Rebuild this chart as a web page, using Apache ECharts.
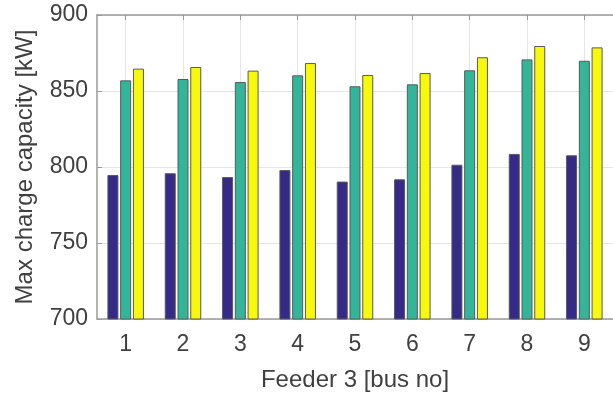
<!DOCTYPE html>
<html>
<head>
<meta charset="utf-8">
<script src="https://cdn.jsdelivr.net/npm/echarts@6/dist/echarts.min.js"></script>
<style>html,body{margin:0;padding:0;background:#fff}#c{width:613px;height:398px}</style>
</head>
<body>
<div id="c"></div>
<script>
const categories = ['1','2','3','4','5','6','7','8','9'];
const seriesA = [794.7, 795.9, 793.4, 798.0, 790.4, 791.9, 801.5, 808.6, 807.7];
const seriesB = [857.0, 857.9, 855.9, 860.3, 853.1, 854.4, 863.6, 870.8, 869.9];
const seriesC = [864.7, 865.8, 863.4, 868.4, 860.5, 861.8, 872.2, 879.6, 878.7];
const yTicks = [700, 750, 800, 850, 900];
const xTitle = 'Feeder 3 [bus no]';
const yTitle = 'Max charge capacity [kW]';

const font = 'Liberation Sans, Arial, sans-serif';
const txt = '#404040';
const axisCol = '#9a9a9a';
const chart = echarts.init(document.getElementById('c'), null, {renderer: 'canvas'});
const barStyle = (c) => ({color: c, borderColor: '#5a5a5a', borderWidth: 1});
chart.setOption({
  animation: false,
  grid: {left: 97, top: 15, width: 524, height: 304, containLabel: false},
  xAxis: [{
    type: 'category', data: categories, position: 'bottom',
    name: xTitle, nameLocation: 'middle', nameGap: 49,
    nameTextStyle: {fontFamily: font, fontSize: 24, color: txt},
    axisLine: {show: true, lineStyle: {color: axisCol, width: 1.5}},
    axisTick: {show: true, inside: true, alignWithLabel: true, length: 5, lineStyle: {color: axisCol}},
    axisLabel: {fontFamily: font, fontSize: 23, color: txt, margin: 14},
    splitLine: {show: true, alignWithLabel: true, lineStyle: {color: '#e6e6e6', width: 1}}
  }, {
    type: 'category', data: categories, position: 'top',
    axisLine: {show: true, lineStyle: {color: axisCol, width: 1.5}},
    axisTick: {show: true, inside: true, alignWithLabel: true, length: 5, lineStyle: {color: axisCol}},
    axisLabel: {show: false}, splitLine: {show: false}
  }],
  yAxis: {
    type: 'value', min: 700, max: 900, interval: 50,
    name: yTitle, nameLocation: 'middle', nameGap: 60,
    nameTextStyle: {fontFamily: font, fontSize: 24, color: txt},
    axisLine: {show: true, lineStyle: {color: axisCol, width: 1.5}},
    axisTick: {show: true, inside: true, length: 5, lineStyle: {color: axisCol}},
    axisLabel: {fontFamily: font, fontSize: 23, color: txt, margin: 9,
      formatter: (v) => yTicks.includes(v) ? String(v) : ''},
    splitLine: {show: true, lineStyle: {color: '#e6e6e6', width: 1}}
  },
  series: [
    {type: 'bar', data: seriesA, barWidth: 11, barGap: '16%', itemStyle: barStyle('#352a87')},
    {type: 'bar', data: seriesB, barWidth: 11, barGap: '16%', itemStyle: barStyle('#33b59a')},
    {type: 'bar', data: seriesC, barWidth: 11, barGap: '16%', itemStyle: barStyle('#f8f80a')}
  ]
});
</script>
</body>
</html>
